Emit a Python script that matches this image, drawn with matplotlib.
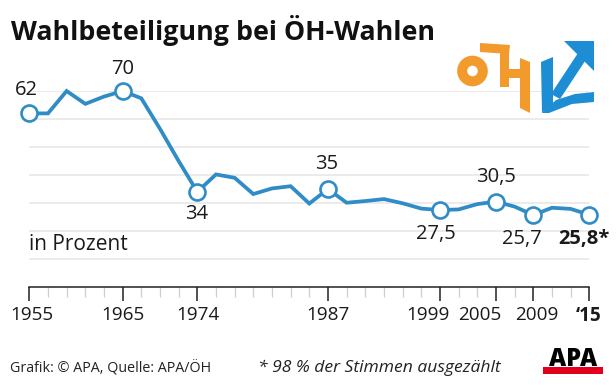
import matplotlib
matplotlib.use("Agg")
import matplotlib.pyplot as plt
from matplotlib.patches import Polygon, Rectangle, Circle
from matplotlib.transforms import ScaledTranslation

plt.rcParams['font.family'] = ['Open Sans', 'DejaVu Sans']

# election years (drawn evenly spaced, one slot per election)
years = [1955, 1957, 1959, 1961, 1963, 1965, 1967, 1969, 1971, 1974, 1975,
         1977, 1979, 1981, 1983, 1985, 1987, 1989, 1991, 1993, 1995, 1997,
         1999, 2001, 2003, 2005, 2007, 2009, 2011, 2013, 2015]
turnout = [62, 62, 70, 65.4, 68, 70, 67.4, 56.5, 45, 34, 40.2,
           39, 33.2, 35.2, 36, 29.8, 35, 30.1, 30.7, 31.4, 29.9, 28,
           27.5, 27.7, 29.6, 30.5, 28.7, 25.7, 28.3, 27.9, 25.8]

tick_years = [1955, 1965, 1974, 1987, 1999, 2005, 2009, 2015]
tick_labels = ['1955', '1965', '1974', '1987', '1999', '2005', '2009', '\u201815']
tick_shift = [3, 0, 1, 0, -12, -16, 4, -1]   # px, labels nudged like the original

marked_years = [1955, 1965, 1974, 1987, 1999, 2005, 2009, 2015]
marked_labels = ['62', '70', '34', '35', '27,5', '30,5', '25,7', '25,8*']
# label offsets in pixels (dx, dy up)
label_offsets = [(-3, 23), (0, 22), (-1, -22), (-1, 25), (-4, -24), (0, 25), (-11, -24), (-5, -24)]

W, H = 616, 385
line_col = '#2f8cc6'

fig = plt.figure(figsize=(W / 100, H / 100), dpi=100)
fig.patch.set_facecolor('white')

x0, x1 = 29.3, 589.3
y0, y70 = 287, 91
ax = fig.add_axes([x0 / W, 1 - y0 / H, (x1 - x0) / W, (y0 - y70) / H])
ax.patch.set_visible(False)

idx = list(range(len(years)))
ax.set_xlim(0, len(years) - 1)
ax.set_ylim(0, 70)

ax.set_yticks(range(10, 71, 10))
ax.yaxis.grid(True, color='#e6e6e6', lw=1.1)
ax.tick_params(axis='y', length=0, labelleft=False)
for s in ['left', 'right', 'top']:
    ax.spines[s].set_visible(False)
ax.spines['bottom'].set_linewidth(1.1)
ax.spines['bottom'].set_color('#222222')

major_idx = [years.index(y) for y in tick_years]
minor_idx = [i for i in idx if i not in major_idx]
ax.set_xticks(major_idx)
ax.set_xticklabels(tick_labels, fontsize=13.6, color='#1a1a1a')
ax.set_xticks(minor_idx, minor=True)
ax.tick_params(axis='x', which='major', direction='out', length=10, width=1.1,
               color='#222222', pad=3.5)
ax.tick_params(axis='x', which='minor', direction='out', length=7.5, width=0.9,
               color='#cfcfcf')
for lab, dx in zip(ax.get_xticklabels(), tick_shift):
    lab.set_transform(lab.get_transform() + ScaledTranslation(dx / 100, 0, fig.dpi_scale_trans))
ax.get_xticklabels()[-1].set_fontweight('bold')

ax.plot(idx, turnout, color=line_col, lw=2.7, solid_joinstyle='miter', clip_on=False, zorder=3)
m_idx = [years.index(y) for y in marked_years]
m_val = [turnout[i] for i in m_idx]
ax.plot(m_idx, m_val, 'o', ms=11.5, mfc='white', mec=line_col, mew=1.9,
        clip_on=False, zorder=4)

for i, v, lab, (dx, dy) in zip(m_idx, m_val, marked_labels, label_offsets):
    ax.annotate(lab, (i, v), xytext=(dx * 0.72, dy * 0.72), textcoords='offset points',
                ha='center', va='center', fontsize=14.5, color='#1a1a1a',
                fontweight='bold' if lab.endswith('*') else 'normal')

# overlay in pixel coordinates for titles, notes and logos
ov = fig.add_axes([0, 0, 1, 1], zorder=5)
ov.set_xlim(0, W)
ov.set_ylim(H, 0)
ov.axis('off')

ov.text(11, 40, 'Wahlbeteiligung bei ÖH-Wahlen', fontsize=19.3, fontweight='bold',
        color='#111111', va='baseline', ha='left')
ov.text(29, 245, 'in Prozent', fontsize=15, color='#1a1a1a', va='center', ha='left')
ov.text(10, 368, 'Grafik: © APA, Quelle: APA/ÖH', fontsize=10.3, color='#222222',
        va='center', ha='left')
ov.text(258, 368, '* 98 % der Stimmen ausgezählt', fontsize=12.6, style='italic',
        color='#222222', va='center', ha='left')

# APA logo
ov.text(573, 359, 'APA', fontsize=17, fontweight='heavy', color='black',
        ha='center', va='center')
ov.add_patch(Rectangle((543, 367), 60, 7, color='#e2001a', lw=0))

# OeH logo
orange = '#f39a2c'
ov.add_patch(Circle((472.5, 71), 10.3, fill=False, ec=orange, lw=7.2))
ov.add_patch(Polygon([(480, 43), (510, 45), (509, 54), (480, 52)], closed=True, color=orange, lw=0))
ov.add_patch(Polygon([(500, 50), (509, 50), (509, 87), (500, 87)], closed=True, color=orange, lw=0))
ov.add_patch(Polygon([(507, 69), (522, 69), (522, 78), (507, 78)], closed=True, color=orange, lw=0))
ov.add_patch(Polygon([(520, 58), (530, 62), (530, 113), (520, 108)], closed=True, color=orange, lw=0))

# blue arrow logo
blue = '#1d8ed4'
ov.add_patch(Polygon([(541, 62), (553, 57), (553, 104), (542, 113)], closed=True, color=blue, lw=0))
ov.add_patch(Polygon([(542, 113), (556, 100), (575, 94), (594, 92), (594, 102),
                      (572, 104), (549, 113)], closed=True, color=blue, lw=0))
ov.add_patch(Polygon([(551, 94), (580, 50), (589, 55), (560, 99)], closed=True, color=blue, lw=0))
ov.add_patch(Polygon([(564, 41), (594, 41), (594, 71)], closed=True, color=blue, lw=0))

fig.savefig('out.png', dpi=100, facecolor='white')
